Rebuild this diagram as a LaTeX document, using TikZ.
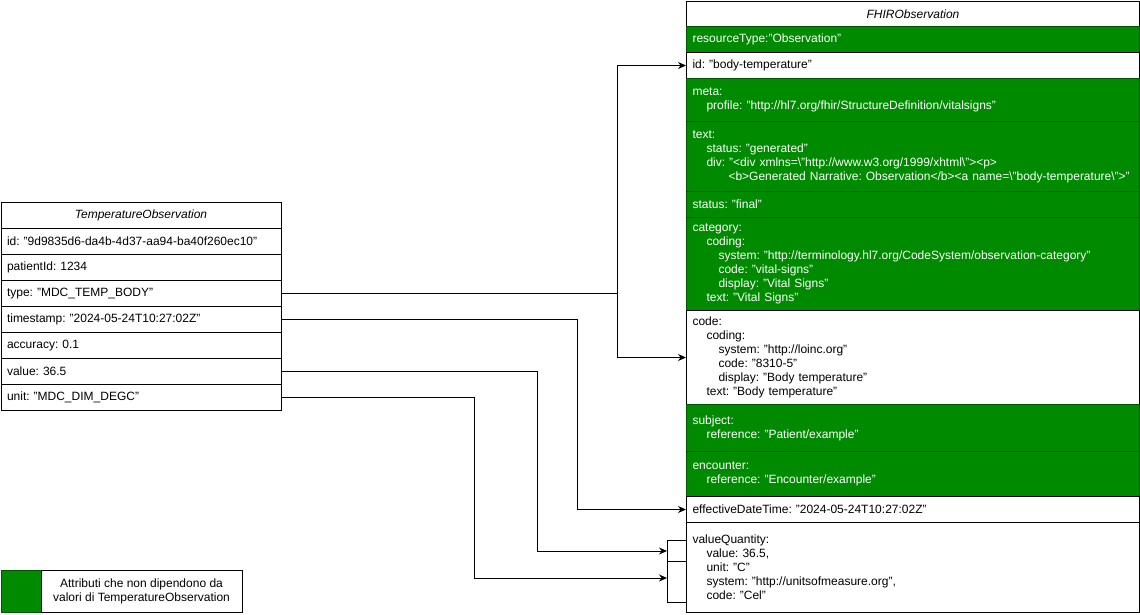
\documentclass[tikz,border=0pt]{standalone}
\usepackage{fontspec}
\setmainfont{Liberation Sans}
\usetikzlibrary{arrows.meta, calc}
\definecolor{fixedfill}{HTML}{008A00}
\definecolor{fixededge}{HTML}{005700}
\newcommand{\indA}{\hspace*{14pt}}
\newcommand{\indB}{\hspace*{26pt}}
\newcommand{\indC}{\hspace*{36pt}}
\frenchspacing

\begin{document}
\begin{tikzpicture}[x=1pt, y=-1pt,
    font=\fontsize{12}{14}\selectfont,
    cell/.style={draw=black, line width=1pt, fill=white, anchor=north west,
      inner xsep=6pt, inner ysep=0pt, align=left},
    tcell/.style={cell, text width=268pt, minimum height=26pt},
    fcell/.style={cell, text width=441pt},
    fixed/.style={fcell, draw=fixededge, fill=fixedfill, text=white},
    link/.style={-{Stealth[length=8pt,width=7pt]}, line width=1pt}]
  \useasboundingbox (0,0) rectangle (1140,614);

  % TemperatureObservation
  \node[tcell, align=center, font=\fontsize{12}{14}\selectfont\itshape] (thead) at (0.5,202) {TemperatureObservation};
  \foreach \n/\t [count=\i] in {
      id/{id: "9d9835d6-da4b-4d37-aa94-ba40f260ec10"},
      pat/{patientId: 1234},
      type/{type: "MDC\_TEMP\_BODY"},
      stamp/{timestamp: "2024-05-24T10:27:02Z"},
      acc/{accuracy: 0.1},
      val/{value: 36.5},
      unit/{unit: "MDC\_DIM\_DEGC"}} {
    \node[tcell] (t\n) at (0.5,{202+26*\i}) {\t};
  }

  % FHIRObservation
  \node[fcell, align=center, minimum height=26pt, font=\fontsize{12}{14}\selectfont\itshape] (fhead) at (686,0.5) {FHIRObservation};
  \node[fixed, minimum height=26pt] (fres) at (686,26) {resourceType:"Observation"};
  \node[fcell, minimum height=26pt] (fid) at (686,52) {id: "body-temperature"};
  \node[fixed, minimum height=43pt] (fmeta) at (686,78) {meta:\\
    \indA profile: "http://hl7.org/fhir/StructureDefinition/vitalsigns"};
  \node[fixed, minimum height=70pt] (ftext) at (686,121) {text:\\
    \indA status: "generated"\\
    \indA div: "<div xmlns=\textbackslash"http://www.w3.org/1999/xhtml\textbackslash"><p>\\
    \indC <b>Generated Narrative: Observation</b><a name=\textbackslash"body-temperature\textbackslash">"};
  \node[fixed, minimum height=26pt] (fstat) at (686,191) {status: "final"};
  \node[fixed, minimum height=93pt] (fcat) at (686,217) {category:\\
    \indA coding:\\
    \indB system: "http://terminology.hl7.org/CodeSystem/observation-category"\\
    \indB code: "vital-signs"\\
    \indB display: "Vital Signs"\\
    \indA text: "Vital Signs"};
  \node[fcell, minimum height=94pt] (fcode) at (686,310) {code:\\
    \indA coding:\\
    \indB system: "http://loinc.org"\\
    \indB code: "8310-5"\\
    \indB display: "Body temperature"\\
    \indA text: "Body temperature"};
  \node[fixed, minimum height=47pt] (fsubj) at (686,404) {subject:\\
    \indA reference: "Patient/example"};
  \node[fixed, minimum height=45pt] (fenc) at (686,451) {encounter:\\
    \indA reference: "Encounter/example"};
  \node[fcell, minimum height=26pt] (feff) at (686,496) {effectiveDateTime: "2024-05-24T10:27:02Z"};
  \node[fcell, minimum height=90pt] (fvq) at (686,522) {valueQuantity:\\
    \indA value: 36.5,\\
    \indA unit: "C"\\
    \indA system: "http://unitsofmeasure.org",\\
    \indA code: "Cel"};
  \node[cell, minimum width=19pt, minimum height=21pt, inner sep=0pt] (vqa) at (667,540) {};
  \node[cell, minimum width=19pt, minimum height=41pt, inner sep=0pt] (vqb) at (667,561) {};

  % connectors
  \coordinate (jtype) at (617,0);
  \coordinate (jstamp) at (577,0);
  \coordinate (jval) at (537,0);
  \coordinate (junit) at (474,0);
  \draw[link] (ttype.east) -- (ttype.east -| jtype) |- (fid.west);
  \draw[link] (ttype.east -| jtype) |- (fcode.west);
  \draw[link] (tstamp.east) -- (tstamp.east -| jstamp) |- (feff.west);
  \draw[link] (tval.east) -- (tval.east -| jval) |- (vqa.west);
  \draw[link] (tunit.east) -- (tunit.east -| junit) |- ([yshift=4pt]vqb.west);

  % legend
  \node[cell, draw=fixededge, fill=fixedfill, minimum width=40pt, minimum height=42pt, inner sep=0pt] (keybox) at (0.5,570) {};
  \node[cell, align=center, minimum width=201pt, minimum height=42pt, inner sep=0pt] (keytext) at (40.5,570) {Attributi che non dipendono da\\valori di TemperatureObservation};
\end{tikzpicture}
\end{document}
